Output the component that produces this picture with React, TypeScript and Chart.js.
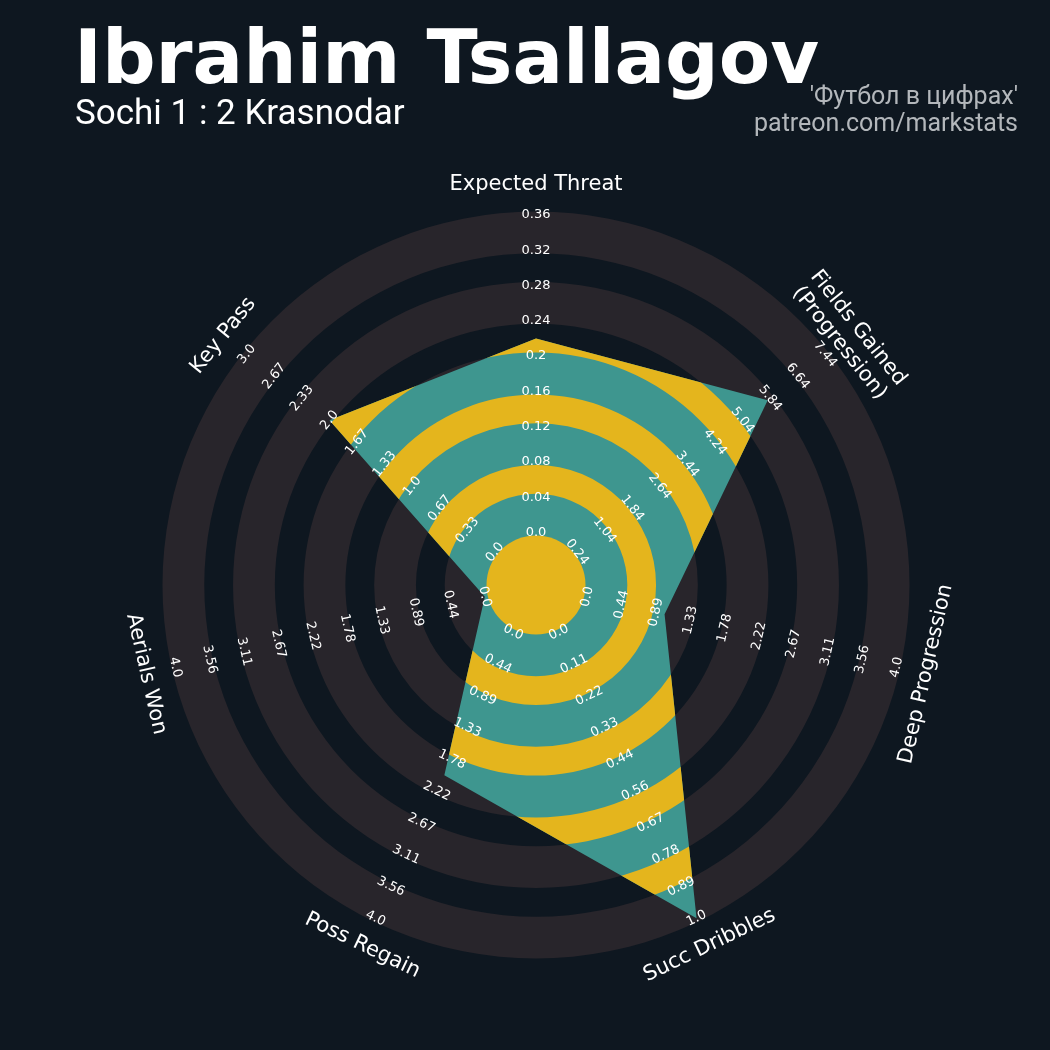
import { useEffect, useRef } from "react";
import { Chart, registerables } from "chart.js";

Chart.register(...registerables);

// ---------- data ----------
const PARAMS: string[][] = [
  ["Expected Threat"],
  ["Fields Gained", "(Progression)"],
  ["Deep Progression"],
  ["Succ Dribbles"],
  ["Poss Regain"],
  ["Aerials Won"],
  ["Key Pass"],
];
const MIN_RANGE = [0, 0.24, 0, 0, 0, 0, 0];
const MAX_RANGE = [0.36, 7.44, 4.0, 1.0, 4.0, 4.0, 3.0];
const VALUES = [0.22, 5.77, 1.0, 1.0, 2.0, 0.0, 2.0];

const TICKS_XT = ["0.0", "0.04", "0.08", "0.12", "0.16", "0.2", "0.24", "0.28", "0.32", "0.36"];
const TICKS_FG = ["0.24", "1.04", "1.84", "2.64", "3.44", "4.24", "5.04", "5.84", "6.64", "7.44"];
const TICKS_DP = ["0.0", "0.44", "0.89", "1.33", "1.78", "2.22", "2.67", "3.11", "3.56", "4.0"];
const TICKS_SD = ["0.0", "0.11", "0.22", "0.33", "0.44", "0.56", "0.67", "0.78", "0.89", "1.0"];
const TICKS_PR = ["0.0", "0.44", "0.89", "1.33", "1.78", "2.22", "2.67", "3.11", "3.56", "4.0"];
const TICKS_AW = ["0.0", "0.44", "0.89", "1.33", "1.78", "2.22", "2.67", "3.11", "3.56", "4.0"];
const TICKS_KP = ["0.0", "0.33", "0.67", "1.0", "1.33", "1.67", "2.0", "2.33", "2.67", "3.0"];
const TICK_LABELS = [TICKS_XT, TICKS_FG, TICKS_DP, TICKS_SD, TICKS_PR, TICKS_AW, TICKS_KP];

const TITLE = "Ibrahim Tsallagov";
const SUBTITLE = "Sochi 1 : 2 Krasnodar";
const CREDIT = ["'Футбол в цифрах'", "patreon.com/markstats"];

const STEPS = TICKS_XT.length - 1; // 9 intervals between ring labels

// ---------- style ----------
const BG = "#0e1720";
const RING = "#28252b";
const TEAL = "#3e968f";
const YELLOW = "#e4b51d";
const RING_IN = -0.085; // ring inner edge offset (in step units)
const RING_OUT = 1.1; // ring outer edge offset

function labelRotation(index: number, n: number) {
  let deg = (index * 360) / n;
  if (deg > 90 && deg < 270) deg -= 180;
  else if (deg >= 270) deg -= 360;
  return (deg * Math.PI) / 180;
}

const decor = {
  id: "decor",
  beforeDraw(chart: any) {
    const ctx = chart.ctx as CanvasRenderingContext2D;
    ctx.save();
    ctx.fillStyle = BG;
    ctx.fillRect(0, 0, chart.width, chart.height);

    // title
    ctx.fillStyle = "#ffffff";
    ctx.textAlign = "left";
    ctx.textBaseline = "alphabetic";
    ctx.font = 'bold 75px "DejaVu Sans"';
    let m = ctx.measureText(TITLE);
    ctx.fillText(TITLE, 80 + m.actualBoundingBoxLeft, 83);

    // subtitle
    ctx.font = '35px Roboto';
    m = ctx.measureText(SUBTITLE);
    ctx.fillText(SUBTITLE, 76 + m.actualBoundingBoxLeft, 124);

    // credit
    ctx.fillStyle = "#b3b7bb";
    ctx.textAlign = "right";
    ctx.font = '25px Roboto';
    ctx.fillText(CREDIT[0], 1018, 104);
    ctx.fillText(CREDIT[1], 1018, 131);
    ctx.restore();
  },
  beforeDatasetsDraw(chart: any) {
    const ctx = chart.ctx as CanvasRenderingContext2D;
    const s = chart.scales.r;
    const cx = s.xCenter, cy = s.yCenter;
    ctx.save();
    ctx.fillStyle = RING;
    for (let k = 0; k < STEPS; k += 2) {
      const r1 = s.getDistanceFromCenterForValue(k + RING_IN);
      const r2 = s.getDistanceFromCenterForValue(k + RING_OUT);
      ctx.beginPath();
      ctx.arc(cx, cy, r2, 0, Math.PI * 2);
      ctx.arc(cx, cy, r1, 0, Math.PI * 2, true);
      ctx.fill();
    }
    ctx.restore();
  },
  afterDatasetsDraw(chart: any) {
    const ctx = chart.ctx as CanvasRenderingContext2D;
    const s = chart.scales.r;
    const cx = s.xCenter, cy = s.yCenter;
    const pts = chart.getDatasetMeta(0).data;

    // yellow bands where the polygon crosses the gaps between rings
    ctx.save();
    ctx.beginPath();
    pts.forEach((p: any, i: number) => (i === 0 ? ctx.moveTo(p.x, p.y) : ctx.lineTo(p.x, p.y)));
    ctx.closePath();
    ctx.clip();
    ctx.fillStyle = YELLOW;
    for (let k = 0; k < STEPS - 1; k += 2) {
      const r1 = s.getDistanceFromCenterForValue(k + RING_OUT);
      const r2 = s.getDistanceFromCenterForValue(k + 2 + RING_IN);
      ctx.beginPath();
      ctx.arc(cx, cy, r2, 0, Math.PI * 2);
      ctx.arc(cx, cy, r1, 0, Math.PI * 2, true);
      ctx.fill();
    }
    ctx.restore();
    // center circle
    ctx.save();
    ctx.fillStyle = YELLOW;
    ctx.beginPath();
    ctx.arc(cx, cy, s.getDistanceFromCenterForValue(RING_IN), 0, Math.PI * 2);
    ctx.fill();
    ctx.restore();

    // range labels and parameter labels
    const n = PARAMS.length;
    ctx.save();
    ctx.fillStyle = "#ffffff";
    ctx.textAlign = "center";
    ctx.textBaseline = "middle";
    for (let i = 0; i < n; i++) {
      const rot = labelRotation(i, n);
      ctx.font = '13px "DejaVu Sans"';
      TICK_LABELS[i].forEach((t, k) => {
        const p = s.getPointPositionForValue(i, k);
        ctx.save();
        ctx.translate(p.x, p.y);
        ctx.rotate(rot);
        ctx.fillText(t, 0, 0);
        ctx.restore();
      });
      const labelV = s.min + (400 / s.drawingArea) * (s.max - s.min);
      const p = s.getPointPositionForValue(i, labelV);
      ctx.font = '21px "DejaVu Sans"';
      const lines = PARAMS[i];
      const lh = 24;
      ctx.save();
      ctx.translate(p.x, p.y);
      ctx.rotate(rot);
      lines.forEach((ln, j) => {
        ctx.fillText(ln, 0, (j - (lines.length - 1) / 2) * lh);
      });
      ctx.restore();
    }
    ctx.restore();
  },
};

export default function App() {
  const ref = useRef<HTMLCanvasElement | null>(null);
  useEffect(() => {
    document.body.style.margin = "0";
    document.body.style.background = BG;
    const canvas = ref.current!;
    const scaled = VALUES.map((v, i) => ((v - MIN_RANGE[i]) / (MAX_RANGE[i] - MIN_RANGE[i])) * STEPS);
    const rMin = -1.4882;
    const chart = new Chart(canvas, {
      type: "radar",
      data: {
        labels: PARAMS.map((p) => p.join(" ")),
        datasets: [
          {
            data: scaled,
            backgroundColor: TEAL,
            borderColor: "rgba(0,0,0,0)",
            borderWidth: 0,
            pointRadius: 0,
            pointHoverRadius: 0,
            fill: "start",
            tension: 0,
          },
        ],
      },
      options: {
        responsive: false,
        animation: false,
        devicePixelRatio: 1,
        layout: { padding: { left: 166, top: 215, right: 144, bottom: 95 } },
        plugins: { legend: { display: false }, tooltip: { enabled: false } },
        events: [],
        scales: {
          r: {
            min: rMin,
            max: STEPS,
            ticks: { display: false },
            grid: { display: false },
            angleLines: { display: false },
            pointLabels: { display: false },
          },
        },
      },
      plugins: [decor],
    });
    return () => chart.destroy();
  }, []);
  return (
    <div style={{ position: "fixed", left: 0, top: 0, width: 1050, height: 1050, background: BG }}>
      <canvas ref={ref} width={1050} height={1050} style={{ display: "block" }} />
    </div>
  );
}
